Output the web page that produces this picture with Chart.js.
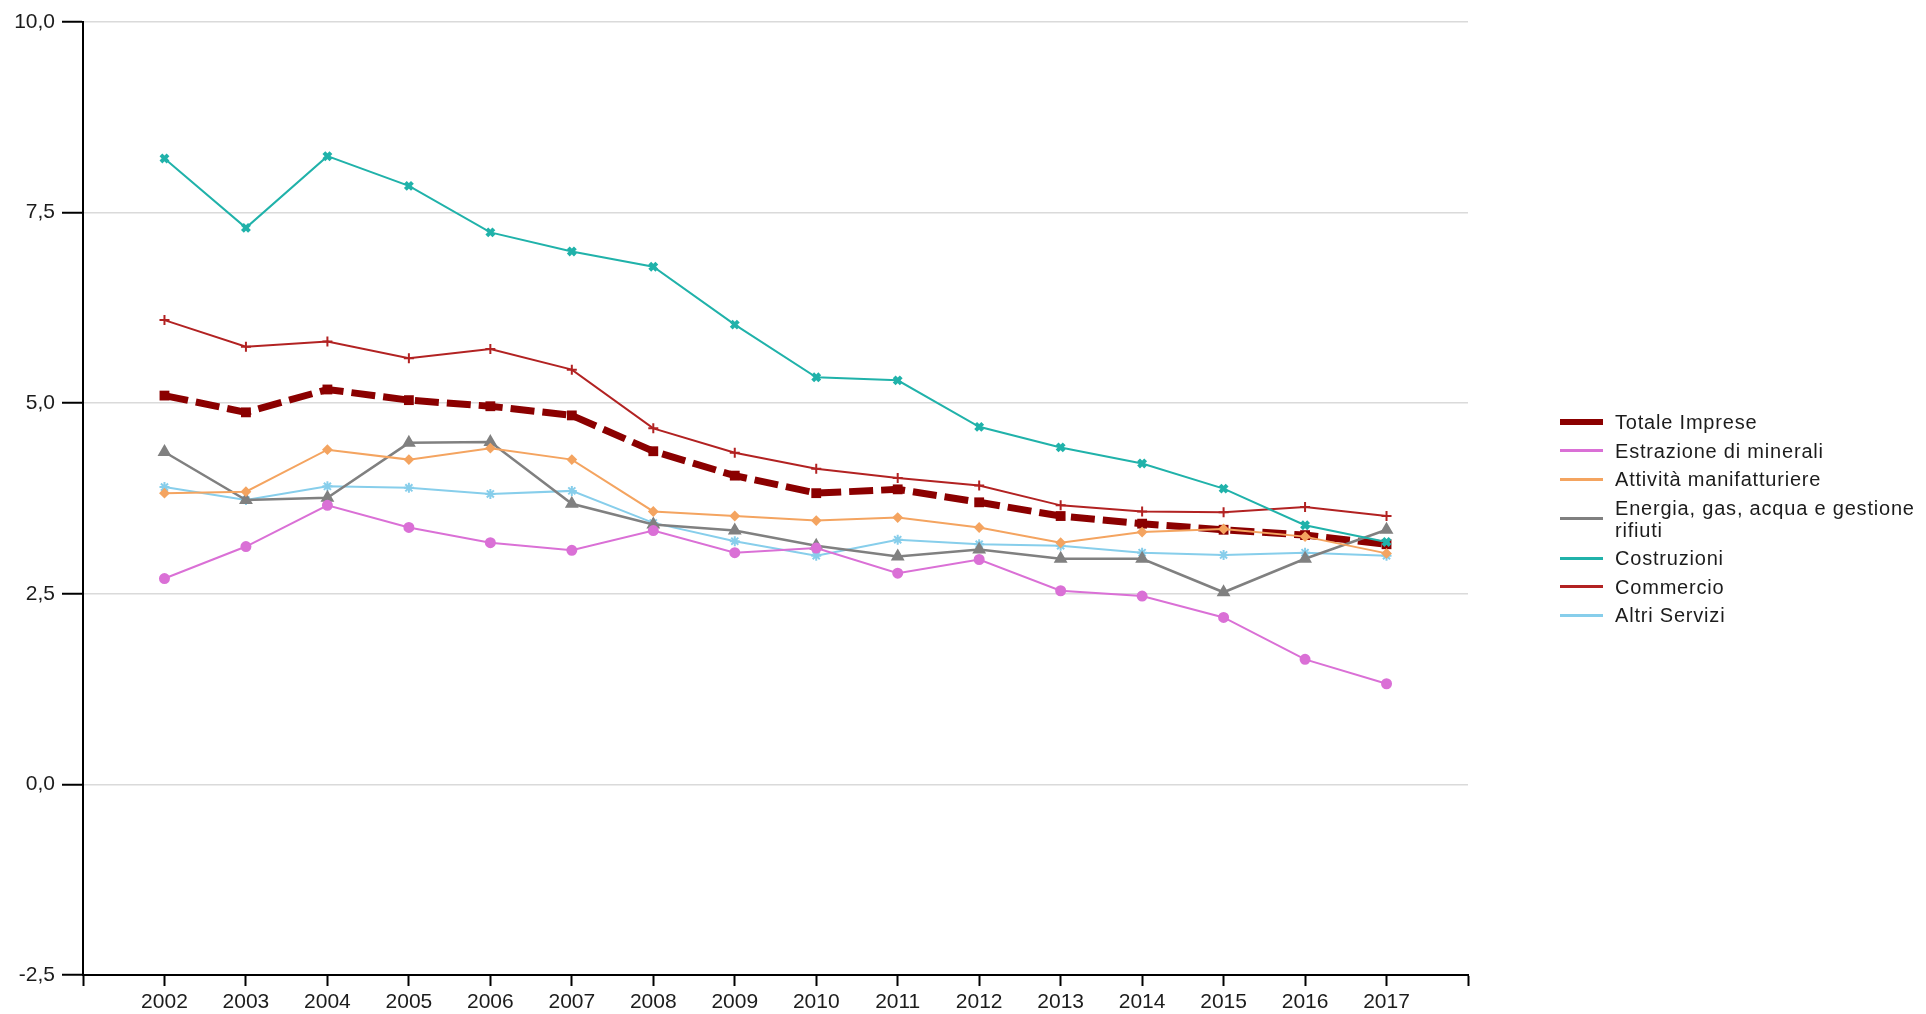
<!DOCTYPE html>
<html>
<head>
<meta charset="utf-8">
<script src="https://cdn.jsdelivr.net/npm/chart.js@4.4.1/dist/chart.umd.min.js"></script>
<style>
  body { margin: 0; background: #fff; }
  #wrap { position: relative; width: 1926px; height: 1014px; }
  #legend {
    position: absolute; left: 1560px; top: 411px;
    font: 20px "Liberation Sans", Arial, sans-serif; color: #1c1c1c;
    letter-spacing: 0.8px; white-space: nowrap;
  }
  .item { display: flex; align-items: center; margin-bottom: 6.5px; line-height: 22px; }
  .swatch { width: 43px; height: 3px; margin-right: 12px; flex: none; }
</style>
</head>
<body>
<div id="wrap">
  <canvas id="chart" width="1926" height="1014"></canvas>
  <div id="legend"></div>
</div>
<script>
// years on the x axis
const years = [2002, 2003, 2004, 2005, 2006, 2007, 2008, 2009, 2010, 2011, 2012, 2013, 2014, 2015, 2016, 2017];

// values
const totaleImprese = [5.10, 4.88, 5.18, 5.04, 4.96, 4.84, 4.37, 4.05, 3.82, 3.87, 3.70, 3.52, 3.42, 3.34, 3.27, 3.15];
const estrazione    = [2.70, 3.12, 3.66, 3.37, 3.17, 3.07, 3.33, 3.04, 3.10, 2.77, 2.95, 2.54, 2.47, 2.19, 1.64, 1.32];
const manifattura   = [3.82, 3.84, 4.39, 4.26, 4.41, 4.26, 3.58, 3.52, 3.46, 3.50, 3.37, 3.17, 3.31, 3.35, 3.25, 3.03];
const energia       = [4.36, 3.73, 3.76, 4.48, 4.49, 3.68, 3.41, 3.33, 3.13, 2.99, 3.08, 2.96, 2.96, 2.52, 2.96, 3.34];
const costruzioni   = [8.21, 7.30, 8.24, 7.85, 7.24, 6.99, 6.79, 6.03, 5.34, 5.30, 4.69, 4.42, 4.21, 3.88, 3.40, 3.18];
const commercio     = [6.09, 5.74, 5.81, 5.59, 5.71, 5.44, 4.67, 4.35, 4.14, 4.02, 3.92, 3.66, 3.58, 3.57, 3.64, 3.52];
const altriServizi  = [3.90, 3.73, 3.91, 3.89, 3.81, 3.85, 3.43, 3.19, 3.00, 3.21, 3.15, 3.13, 3.04, 3.01, 3.04, 3.00];

const yTicks = { min: -2.5, max: 10, step: 2.5 };

const pts = (vals) => vals.map((v, i) => ({ x: years[i], y: v }));

const datasets = [
  { label: ['Totale Imprese'], data: pts(totaleImprese), borderColor: '#8b0000', backgroundColor: '#8b0000',
    borderWidth: 7, borderDash: [24, 8], pointStyle: 'rect', pointRadius: 2, order: 9 },
  { label: ['Estrazione di minerali'], data: pts(estrazione), borderColor: '#da70d6', backgroundColor: '#da70d6',
    borderWidth: 2, pointStyle: 'circle', pointRadius: 4.5, order: 1 },
  { label: ['Attività manifatturiere'], data: pts(manifattura), borderColor: '#f4a460', backgroundColor: '#f4a460',
    borderWidth: 2, pointStyle: 'rectRot', pointRadius: 4, order: 2 },
  { label: ['Energia, gas, acqua e gestione', 'rifiuti'], data: pts(energia), borderColor: '#808080', backgroundColor: '#808080',
    borderWidth: 2.5, pointStyle: 'triangle', pointRadius: 5.5, order: 3 },
  { label: ['Costruzioni'], data: pts(costruzioni), borderColor: '#20b2aa', backgroundColor: '#20b2aa',
    borderWidth: 2, pointStyle: 'crossRot', pointRadius: 5, pointBorderWidth: 4, order: 0 },
  { label: ['Commercio'], data: pts(commercio), borderColor: '#b22222', backgroundColor: '#b22222',
    borderWidth: 2, pointStyle: 'cross', pointRadius: 5, pointBorderWidth: 2, order: 4 },
  { label: ['Altri Servizi'], data: pts(altriServizi), borderColor: '#87ceeb', backgroundColor: '#87ceeb',
    borderWidth: 2, pointStyle: 'star', pointRadius: 5, pointBorderWidth: 2, order: 5 }
];

// html legend
const legendEl = document.getElementById('legend');
datasets.forEach(ds => {
  const item = document.createElement('div');
  item.className = 'item';
  const sw = document.createElement('div');
  sw.className = 'swatch';
  sw.style.background = ds.borderColor;
  if (ds.borderWidth > 5) sw.style.height = '6px';
  const txt = document.createElement('div');
  txt.innerHTML = ds.label.join('<br>');
  item.appendChild(sw);
  item.appendChild(txt);
  legendEl.appendChild(item);
});

Chart.defaults.font.family = '"Liberation Sans", Arial, sans-serif';
Chart.defaults.font.size = 21;
Chart.defaults.color = '#1c1c1c';

new Chart(document.getElementById('chart').getContext('2d'), {
  type: 'line',
  data: {
    datasets: datasets.map(ds => Object.assign({}, ds, { label: ds.label.join(' '), fill: false, tension: 0 }))
  },
  options: {
    responsive: false,
    animation: false,
    devicePixelRatio: 1,
    layout: { padding: { top: 22, right: 458, left: 0, bottom: 0 } },
    plugins: {
      legend: { display: false },
      tooltip: { enabled: false }
    },
    scales: {
      x: {
        type: 'linear',
        min: years[0] - 1,
        max: years[years.length - 1] + 1,
        afterFit: (s) => { s.height = 39; },
        border: { color: '#000', width: 2 },
        grid: { drawOnChartArea: false, tickLength: 11, tickColor: '#000', tickWidth: 2 },
        ticks: {
          stepSize: 1, autoSkip: false, maxRotation: 0, padding: 4,
          callback: (v) => (v >= years[0] && v <= years[years.length - 1]) ? String(v) : ''
        }
      },
      y: {
        min: yTicks.min,
        max: yTicks.max,
        afterFit: (s) => { s.width = 83; },
        border: { color: '#000', width: 2 },
        grid: { color: '#dadada', lineWidth: 1.5, tickLength: 21, tickColor: '#000', tickWidth: 2 },
        ticks: {
          stepSize: yTicks.step, padding: 7,
          callback: (v) => v.toFixed(1).replace('.', ',')
        }
      }
    }
  }
});
</script>
</body>
</html>
